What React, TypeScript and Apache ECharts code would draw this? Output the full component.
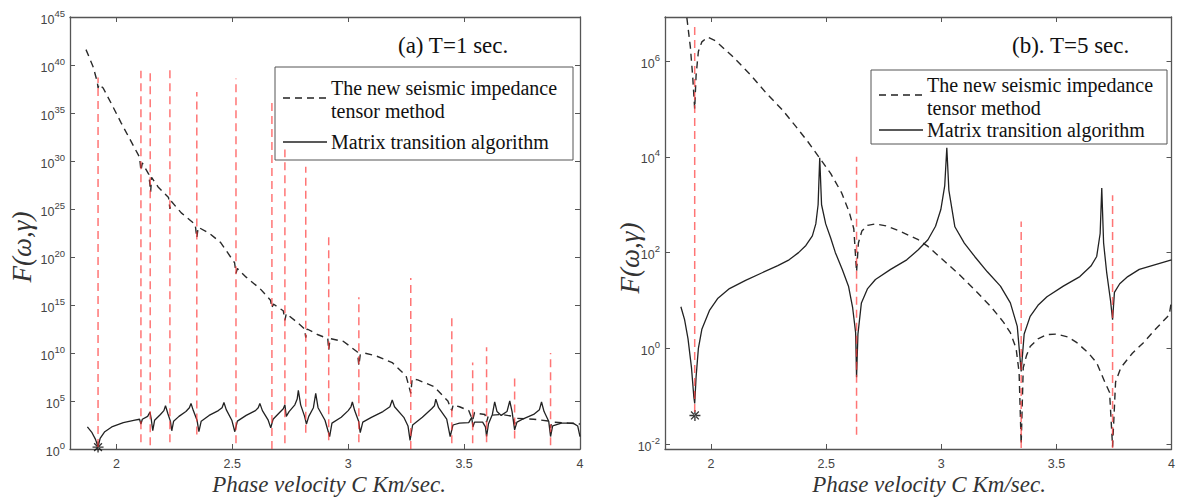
import React, { useEffect, useRef } from "react";
import * as echarts from "echarts";

// ---------- data (y values are log10 F) ----------
const xTicks = [2, 2.5, 3, 3.5, 4];
const rightYTicks = [-2, 0, 2, 4, 6];

// (a) T=1 sec.
const aNewMethod: [number, number][] = [
  [1.869, 41.6], [1.9, 39.8], [1.918, 38.2], [1.921, 37.6], [1.925, 38.0], [1.943, 37.6],
  [1.98, 35.9], [2.02, 34.0], [2.06, 32.2], [2.1, 30.4], [2.106, 29.0], [2.112, 29.8],
  [2.14, 28.6], [2.148, 26.8], [2.152, 28.3], [2.18, 27.3], [2.225, 26.2], [2.231, 25.0],
  [2.237, 25.8], [2.28, 24.6], [2.34, 23.4], [2.347, 22.0], [2.353, 23.1], [2.4, 22.5],
  [2.45, 21.5], [2.51, 19.4], [2.516, 18.3], [2.522, 18.8], [2.56, 17.9], [2.62, 16.7],
  [2.665, 15.5], [2.671, 14.7], [2.677, 15.1], [2.72, 14.4], [2.727, 13.4], [2.733, 14.1],
  [2.78, 13.2], [2.812, 12.5], [2.817, 11.6], [2.823, 12.5], [2.87, 11.9], [2.912, 11.5],
  [2.916, 10.3], [2.922, 11.5], [2.98, 11.2], [3.04, 10.1], [3.046, 8.7], [3.052, 9.8],
  [3.07, 10.0], [3.12, 9.7], [3.19, 9.0], [3.25, 7.6], [3.27, 5.8], [3.276, 7.3],
  [3.3, 7.2], [3.37, 6.5], [3.43, 5.0], [3.447, 4.0], [3.453, 4.6], [3.48, 4.4],
  [3.52, 4.0], [3.537, 3.0], [3.545, 3.8], [3.56, 3.7], [3.59, 3.6], [3.597, 2.8],
  [3.605, 3.5], [3.66, 3.6], [3.712, 3.4], [3.718, 2.6], [3.725, 3.2], [3.8, 3.1],
  [3.868, 2.9], [3.873, 2.2], [3.878, 2.8], [3.95, 2.7], [4.0, 2.6],
];
const aMatrix: [number, number][] = [
  [1.875, 2.3], [1.895, 1.7], [1.91, 1.0], [1.921, 0.2], [1.93, 1.1], [1.95, 1.8],
  [1.98, 2.3], [2.03, 2.75], [2.08, 3.0], [2.1, 3.1], [2.106, 2.6], [2.112, 3.1],
  [2.135, 3.4], [2.145, 3.85], [2.15, 3.2], [2.157, 1.9], [2.165, 3.0], [2.19, 3.6],
  [2.205, 4.0], [2.212, 4.5], [2.222, 3.7], [2.233, 2.9], [2.239, 1.9], [2.247, 2.9],
  [2.27, 3.4], [2.3, 3.9], [2.315, 4.3], [2.322, 4.75], [2.332, 4.0], [2.348, 3.0],
  [2.356, 1.8], [2.366, 2.9], [2.4, 3.5], [2.44, 4.0], [2.456, 4.3], [2.464, 4.85],
  [2.474, 4.1], [2.498, 3.0], [2.511, 1.8], [2.522, 2.9], [2.56, 3.5], [2.6, 4.0],
  [2.612, 4.3], [2.619, 4.75], [2.63, 4.0], [2.655, 3.0], [2.666, 2.2], [2.676, 3.1],
  [2.7, 3.7], [2.72, 4.2], [2.727, 4.6], [2.733, 3.4], [2.745, 3.9], [2.77, 4.6],
  [2.78, 5.2], [2.785, 6.1], [2.795, 4.6], [2.812, 3.4], [2.82, 2.6], [2.83, 3.4],
  [2.85, 4.3], [2.86, 5.8], [2.87, 4.3], [2.9, 3.0], [2.92, 1.3], [2.93, 2.7],
  [2.97, 3.3], [3.0, 4.0], [3.012, 4.4], [3.018, 4.9], [3.028, 4.0], [3.045, 2.9],
  [3.052, 1.7], [3.063, 2.8], [3.1, 3.3], [3.15, 3.9], [3.18, 4.4], [3.19, 5.1],
  [3.2, 4.4], [3.24, 3.3], [3.258, 2.4], [3.267, 0.9], [3.278, 2.5], [3.32, 3.3],
  [3.36, 4.2], [3.372, 4.5], [3.378, 5.2], [3.39, 4.3], [3.425, 3.1], [3.44, 1.3],
  [3.452, 2.5], [3.48, 2.7], [3.52, 2.75], [3.533, 3.3], [3.538, 2.3], [3.545, 2.8],
  [3.58, 2.8], [3.592, 2.3], [3.597, 1.3], [3.605, 2.6], [3.622, 3.6], [3.632, 4.9],
  [3.642, 3.9], [3.66, 3.5], [3.685, 3.9], [3.697, 5.0], [3.707, 3.9], [3.718, 2.0],
  [3.728, 2.8], [3.76, 3.2], [3.8, 3.6], [3.825, 4.1], [3.834, 4.9], [3.845, 3.9],
  [3.865, 2.9], [3.873, 1.3], [3.882, 2.4], [3.92, 2.7], [3.97, 2.7], [3.99, 2.4], [4.0, 1.3],
];
const aRootX = [1.921, 2.106, 2.146, 2.231, 2.347, 2.516, 2.671, 2.727, 2.817, 2.916, 3.046, 3.27, 3.447, 3.537, 3.597, 3.718, 3.873];
const aRootTop = [38.7, 39.4, 39.2, 39.6, 37.2, 38.6, 36.2, 31.2, 29.4, 22.1, 15.8, 17.8, 13.8, 9.0, 10.6, 7.5, 10.0];
const aRootBottom = [0.2, 0.7, 0.4, 0.7, 1.5, 0.6, 0.0, 0.6, 1.7, 0.9, 0.7, 0.0, 0.6, 0.6, 0.7, 1.1, 0.4];
const aStar: [number, number][] = [[1.921, 0.2]];

// (b) T=5 sec.
const bNewMethod: [number, number][] = [
  [1.895, 6.9], [1.91, 6.3], [1.92, 5.7], [1.929, 5.0], [1.935, 5.7], [1.945, 6.2],
  [1.96, 6.4], [1.985, 6.5], [2.02, 6.42], [2.093, 6.1], [2.17, 5.72], [2.24, 5.33],
  [2.31, 4.98], [2.369, 4.63], [2.42, 4.32], [2.468, 4.0], [2.52, 3.65], [2.567, 3.25],
  [2.6, 2.85], [2.62, 2.5], [2.632, 1.6], [2.64, 2.2], [2.655, 2.45], [2.68, 2.57],
  [2.713, 2.6], [2.76, 2.56], [2.82, 2.45], [2.9, 2.27], [2.942, 2.13], [3.0, 1.88],
  [3.07, 1.58], [3.14, 1.25], [3.214, 0.88], [3.27, 0.55], [3.3, 0.33], [3.325, 0.0],
  [3.338, -0.5], [3.347, -2.0], [3.356, -0.4], [3.37, -0.15], [3.386, 0.04], [3.42, 0.2],
  [3.459, 0.29], [3.5, 0.3], [3.55, 0.24], [3.589, 0.12], [3.64, -0.1], [3.675, -0.3],
  [3.71, -0.7], [3.731, -0.92], [3.744, -2.05], [3.757, -0.7], [3.78, -0.4], [3.83, -0.1],
  [3.878, 0.12], [3.93, 0.4], [3.99, 0.7], [4.0, 1.0],
];
const bMatrix: [number, number][] = [
  [1.869, 0.87], [1.885, 0.6], [1.9, 0.2], [1.915, -0.4], [1.925, -1.0], [1.929, -1.15],
  [1.935, -0.6], [1.945, 0.0], [1.96, 0.4], [1.994, 0.8], [2.03, 1.05], [2.08, 1.25],
  [2.15, 1.42], [2.222, 1.58], [2.29, 1.73], [2.339, 1.85], [2.38, 2.0], [2.412, 2.15],
  [2.44, 2.35], [2.455, 2.6], [2.465, 3.0], [2.472, 3.98], [2.48, 3.0], [2.498, 2.6],
  [2.52, 2.3], [2.54, 2.0], [2.57, 1.65], [2.597, 1.3], [2.615, 0.85], [2.628, 0.33],
  [2.632, -0.6], [2.638, 0.3], [2.653, 0.95], [2.68, 1.25], [2.714, 1.44], [2.78, 1.65],
  [2.85, 1.85], [2.9, 2.06], [2.942, 2.27], [2.975, 2.55], [2.998, 2.9], [3.015, 3.4],
  [3.024, 4.19], [3.033, 3.3], [3.059, 2.54], [3.1, 2.2], [3.145, 1.92], [3.2, 1.6],
  [3.257, 1.3], [3.3, 0.95], [3.33, 0.46], [3.347, -0.48], [3.36, 0.3], [3.386, 0.67],
  [3.42, 0.9], [3.459, 1.08], [3.53, 1.3], [3.602, 1.5], [3.65, 1.72], [3.675, 1.92],
  [3.69, 2.4], [3.697, 3.35], [3.705, 2.2], [3.718, 1.6], [3.735, 1.0], [3.744, 0.6],
  [3.752, 1.17], [3.775, 1.35], [3.81, 1.5], [3.86, 1.65], [3.93, 1.75], [4.0, 1.85],
];
const bRootX = [1.929, 2.632, 3.347, 3.744];
const bRootTop = [6.73, 4.0, 2.65, 3.2];
const bRootBottom = [-1.33, -1.8, -2.08, -2.08];
const bStar: [number, number][] = [[1.93, -1.4]];

// ---------- helpers ----------
const rootSegments = (xs: number[], bot: number[], top: number[]) =>
  xs.flatMap((x, i) => [[x, bot[i]], [x, top[i]], [x, "-"]]);

const STAR =
  "path://M-0.6,-5L0.6,-5L0.6,5L-0.6,5Z M-5,-0.6L5,-0.6L5,0.6L-5,0.6Z M3.12,3.96L3.96,3.12L-3.12,-3.96L-3.96,-3.12Z M-3.12,3.96L-3.96,3.12L3.12,-3.96L3.96,-3.12Z";

const AXIS_COLOR = "#555";
const LABEL_COLOR = "#444";
const SERIF = "Liberation Serif, Times New Roman, serif";
const SANS = "Liberation Sans, Arial, sans-serif";

export default function App() {
  const ref = useRef<HTMLDivElement>(null);

  useEffect(() => {
    document.body.style.margin = "0";
    if (!ref.current) return;
    const chart = echarts.init(ref.current, null, { renderer: "svg" });

    const powLabel = {
      formatter: (v: number) => `{a|10}{s|${v}}`,
      rich: {
        a: { fontSize: 12.5, color: LABEL_COLOR, fontFamily: SANS, lineHeight: 18, verticalAlign: "bottom" },
        s: { fontSize: 9.5, color: LABEL_COLOR, fontFamily: SANS, verticalAlign: "top", lineHeight: 18 },
      },
      margin: 5,
    };

    const xAxisBase = (grid: number, pos: "bottom" | "top", labels: boolean) => ({
      type: "value",
      gridIndex: grid,
      position: pos,
      min: 1.8,
      max: 4,
      axisLine: { show: true, onZero: false, lineStyle: { color: AXIS_COLOR, width: 1.3 } },
      axisTick: { show: true, inside: true, length: 5, customValues: xTicks, lineStyle: { color: AXIS_COLOR } },
      axisLabel: {
        show: labels,
        customValues: xTicks,
        color: LABEL_COLOR,
        fontSize: 12.5,
        fontFamily: SANS,
        margin: 8,
      },
      splitLine: { show: false },
    });

    const leftY = (grid: number, pos: "left" | "right", labels: boolean) => ({
      type: "value",
      gridIndex: grid,
      position: pos,
      min: 0,
      max: 45,
      interval: 5,
      axisLine: { show: true, onZero: false, lineStyle: { color: AXIS_COLOR, width: 1.3 } },
      axisTick: { show: true, inside: true, length: 5, lineStyle: { color: AXIS_COLOR } },
      axisLabel: { show: labels, ...powLabel },
      splitLine: { show: false },
    });

    const rightY = (grid: number, pos: "left" | "right", labels: boolean) => ({
      type: "value",
      gridIndex: grid,
      position: pos,
      min: -2.1,
      max: 6.92,
      axisLine: { show: true, onZero: false, lineStyle: { color: AXIS_COLOR, width: 1.3 } },
      axisTick: { show: true, inside: true, length: 5, customValues: rightYTicks, lineStyle: { color: AXIS_COLOR } },
      axisLabel: { show: labels, customValues: rightYTicks, ...powLabel },
      splitLine: { show: false },
    });

    const dashed = { color: "#2a2a2a", width: 1.4, type: [7, 5] as number[] };
    const solid = { color: "#222", width: 1.3, type: "solid" };
    const redLine = { color: "#ff3b3b", width: 1.5, type: [8, 5] as number[], opacity: 0.7 };

    const legendFont = `20px ${SERIF}`;
    const legendGroup = (x: number, y: number, w: number, h: number, rows: number[]) => ({
      type: "group",
      children: [
        { type: "rect", shape: { x, y, width: w, height: h }, style: { fill: "none", stroke: AXIS_COLOR, lineWidth: 1 } },
        { type: "line", shape: { x1: x + 8, y1: rows[0] + 10, x2: x + 52, y2: rows[0] + 10 }, style: { stroke: "#222", lineWidth: 1.4, lineDash: [7, 5] } },
        { type: "text", x: x + 56, y: rows[0], style: { text: "The new seismic impedance", font: legendFont, fill: "#111", verticalAlign: "middle" } },
        { type: "text", x: x + 56, y: rows[1], style: { text: "tensor method", font: legendFont, fill: "#111", verticalAlign: "middle" } },
        { type: "line", shape: { x1: x + 8, y1: rows[2], x2: x + 52, y2: rows[2] }, style: { stroke: "#222", lineWidth: 1.3 } },
        { type: "text", x: x + 56, y: rows[2], style: { text: "Matrix transition algorithm", font: legendFont, fill: "#111", verticalAlign: "middle" } },
      ],
    });

    const option = {
      animation: false,
      backgroundColor: "#fff",
      grid: [
        { left: 70, top: 17, width: 510, height: 432 },
        { left: 665, top: 17, width: 512, height: 432 },
      ],
      xAxis: [
        xAxisBase(0, "bottom", true),
        xAxisBase(1, "bottom", true),
        xAxisBase(0, "top", false),
        xAxisBase(1, "top", false),
      ],
      yAxis: [
        leftY(0, "left", true),
        rightY(1, "left", true),
        leftY(0, "right", false),
        rightY(1, "right", false),
      ],
      series: [
        { type: "line", name: "The new seismic impedance tensor method", xAxisIndex: 0, yAxisIndex: 0, data: aNewMethod, showSymbol: false, lineStyle: dashed },
        { type: "line", name: "Matrix transition algorithm", xAxisIndex: 0, yAxisIndex: 0, data: aMatrix, showSymbol: false, lineStyle: solid },
        { type: "line", name: "roots a", xAxisIndex: 0, yAxisIndex: 0, data: rootSegments(aRootX, aRootBottom, aRootTop), showSymbol: false, connectNulls: false, lineStyle: redLine },
        { type: "scatter", xAxisIndex: 0, yAxisIndex: 0, data: aStar, symbol: STAR, symbolSize: 11, itemStyle: { color: "#000" } },
        { type: "line", name: "The new seismic impedance tensor method", xAxisIndex: 1, yAxisIndex: 1, data: bNewMethod, showSymbol: false, lineStyle: dashed },
        { type: "line", name: "Matrix transition algorithm", xAxisIndex: 1, yAxisIndex: 1, data: bMatrix, showSymbol: false, lineStyle: solid },
        { type: "line", name: "roots b", xAxisIndex: 1, yAxisIndex: 1, data: rootSegments(bRootX, bRootBottom, bRootTop), showSymbol: false, connectNulls: false, lineStyle: redLine },
        { type: "scatter", xAxisIndex: 1, yAxisIndex: 1, data: bStar, symbol: STAR, symbolSize: 11, itemStyle: { color: "#000" } },
      ],
      graphic: [
        { type: "text", x: 398, y: 45, style: { text: "(a) T=1 sec.", font: `23px ${SERIF}`, fill: "#111", verticalAlign: "middle" } },
        { type: "text", x: 1012, y: 45, style: { text: "(b). T=5 sec.", font: `23px ${SERIF}`, fill: "#111", verticalAlign: "middle" } },
        legendGroup(275, 67, 298, 93, [88, 111, 142]),
        legendGroup(871, 70, 296, 74, [85, 108, 130]),
        { type: "text", x: 329, y: 484, style: { text: "Phase velocity C Km/sec.", font: `italic 23px ${SERIF}`, fill: "#333", align: "center", verticalAlign: "middle" } },
        { type: "text", x: 929, y: 484, style: { text: "Phase velocity C Km/sec.", font: `italic 23px ${SERIF}`, fill: "#333", align: "center", verticalAlign: "middle" } },
        { type: "text", x: 22, y: 247, rotation: Math.PI / 2, style: { text: "F(\u03c9,\u03b3)", font: `italic 27px ${SERIF}`, fill: "#333", align: "center", verticalAlign: "middle" } },
        { type: "text", x: 630, y: 258, rotation: Math.PI / 2, style: { text: "F(\u03c9,\u03b3)", font: `italic 27px ${SERIF}`, fill: "#333", align: "center", verticalAlign: "middle" } },
      ],
    };

    chart.setOption(option as any);
    return () => chart.dispose();
  }, []);

  return <div ref={ref} style={{ width: 1178, height: 498 }} />;
}
